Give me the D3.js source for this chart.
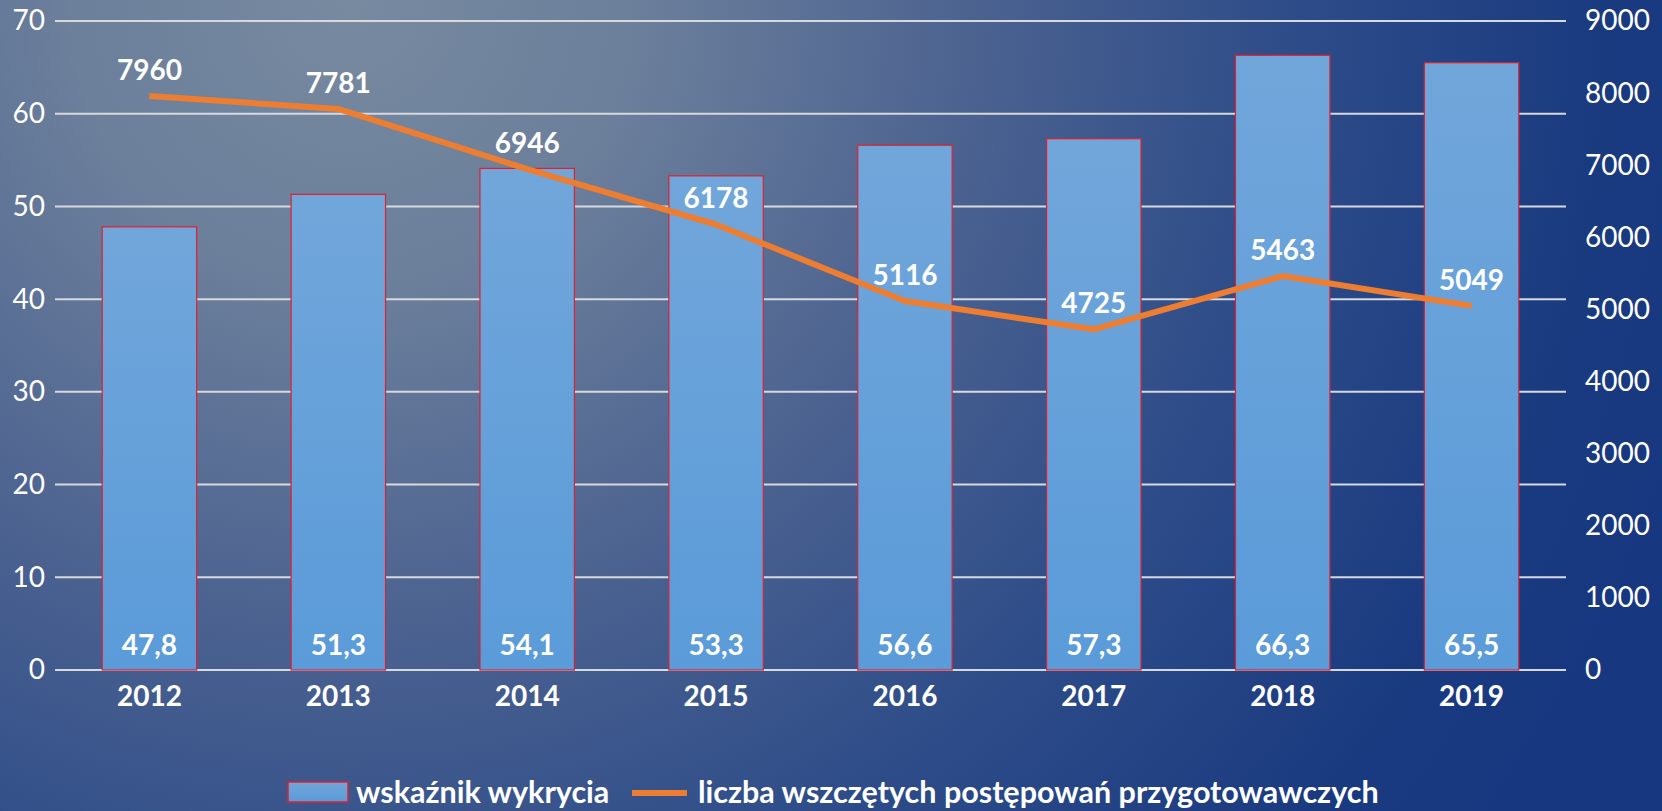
<!DOCTYPE html>
<html>
<head>
<meta charset="utf-8">
<script src="https://cdn.jsdelivr.net/npm/d3@7"></script>
<style>
  html, body { margin: 0; padding: 0; overflow: hidden; }
  svg text { font-family: Lato, "Noto Sans", sans-serif; fill: #fff; }
</style>
</head>
<body>
<div id="chart"></div>
<script>
var years = ['2012', '2013', '2014', '2015', '2016', '2017', '2018', '2019'];
var wskaznik = [47.8, 51.3, 54.1, 53.3, 56.6, 57.3, 66.3, 65.5];
var liczba = [7960, 7781, 6946, 6178, 5116, 4725, 5463, 5049];
var leftTicks = [0, 10, 20, 30, 40, 50, 60, 70];
var rightTicks = [0, 1000, 2000, 3000, 4000, 5000, 6000, 7000, 8000, 9000];
var legendLabels = ['wskaźnik wykrycia', 'liczba wszczętych postępowań przygotowawczych'];

var width = 1662, height = 811;
var margin = {top: 21, right: 96, bottom: 141, left: 55};
var innerW = width - margin.left - margin.right,
  innerH = height - margin.top - margin.bottom;

var pl = d3.formatLocale({decimal: ',', thousands: '', grouping: [3], currency: ['', '']});
var fmt1 = pl.format('.1f');

var svg = d3.select('#chart')
  .append('svg')
  .attr('width', width)
  .attr('height', height);

var defs = svg.append('defs');
var bg = defs.append('radialGradient')
  .attr('id', 'bg')
  .attr('gradientUnits', 'userSpaceOnUse')
  .attr('cx', 350).attr('cy', 0).attr('r', 1400);
[[0, '#778aa0'], [0.2, '#6c7f9b'], [0.45, '#4b6290'], [0.66, '#2f4d89'], [0.9, '#1a3a80'], [1, '#173780']]
  .forEach(function(s) {
    bg.append('stop').attr('offset', s[0]).attr('stop-color', s[1]);
  });
var barGrad = defs.append('linearGradient')
  .attr('id', 'barGrad')
  .attr('x1', 0).attr('y1', 0).attr('x2', 0).attr('y2', 1);
barGrad.append('stop').attr('offset', 0).attr('stop-color', '#71a6da');
barGrad.append('stop').attr('offset', 1).attr('stop-color', '#5a9bd9');

svg.append('rect')
  .attr('width', width)
  .attr('height', height)
  .attr('fill', 'url(#bg)');

var g = svg.append('g')
  .attr('transform', 'translate(' + margin.left + ',' + margin.top + ')');

var x = d3.scaleBand()
  .domain(years)
  .range([0, innerW])
  .paddingInner(0.5)
  .paddingOuter(0.25);
var yLeft = d3.scaleLinear().domain([0, 70]).range([innerH, 0]);
var yRight = d3.scaleLinear().domain([0, 9000]).range([innerH, 0]);

// gridlines
g.append('g')
  .selectAll('line')
  .data(leftTicks)
  .enter()
  .append('line')
  .attr('x1', 0)
  .attr('x2', innerW)
  .attr('y1', function(d) { return yLeft(d); })
  .attr('y2', function(d) { return yLeft(d); })
  .attr('stroke', '#d6d9de')
  .attr('stroke-width', 2);

// left axis
var leftAxis = g.append('g')
  .call(d3.axisLeft(yLeft).tickValues(leftTicks).tickSize(0).tickPadding(10));
leftAxis.select('.domain').remove();
leftAxis.selectAll('text')
  .attr('font-size', 28)
  .attr('fill', '#fff');

// right axis
var rightAxis = g.append('g')
  .attr('transform', 'translate(' + innerW + ',0)')
  .call(d3.axisRight(yRight).tickValues(rightTicks).tickSize(0).tickPadding(19).tickFormat(d3.format('d')));
rightAxis.select('.domain').remove();
rightAxis.selectAll('text')
  .attr('font-size', 28)
  .attr('fill', '#fff');

// bottom axis
var bottomAxis = g.append('g')
  .attr('transform', 'translate(0,' + innerH + ')')
  .call(d3.axisBottom(x).tickSize(0).tickPadding(16));
bottomAxis.select('.domain').remove();
bottomAxis.selectAll('text')
  .attr('font-size', 28)
  .attr('font-weight', 'bold')
  .attr('fill', '#fff');

// bars
g.selectAll('.bar')
  .data(years)
  .enter()
  .append('rect')
  .attr('class', 'bar')
  .attr('x', function(d) { return x(d); })
  .attr('y', function(d, i) { return yLeft(wskaznik[i]); })
  .attr('width', x.bandwidth())
  .attr('height', function(d, i) { return innerH - yLeft(wskaznik[i]); })
  .attr('fill', 'url(#barGrad)')
  .attr('stroke', '#e0202e')
  .attr('stroke-width', 1.2);

g.selectAll('.barLabel')
  .data(years)
  .enter()
  .append('text')
  .attr('class', 'barLabel')
  .attr('x', function(d) { return x(d) + x.bandwidth() / 2; })
  .attr('y', innerH - 15)
  .attr('text-anchor', 'middle')
  .attr('font-size', 28)
  .attr('font-weight', 'bold')
  .text(function(d, i) { return fmt1(wskaznik[i]); });

// line
var line = d3.line()
  .x(function(d, i) { return x(years[i]) + x.bandwidth() / 2; })
  .y(function(d) { return yRight(d); });

g.append('path')
  .datum(liczba)
  .attr('d', line)
  .attr('fill', 'none')
  .attr('stroke', '#ed7d31')
  .attr('stroke-width', 6)
  .attr('stroke-linejoin', 'round');

g.selectAll('.lineLabel')
  .data(liczba)
  .enter()
  .append('text')
  .attr('class', 'lineLabel')
  .attr('x', function(d, i) { return x(years[i]) + x.bandwidth() / 2; })
  .attr('y', function(d) { return yRight(d) - 16; })
  .attr('text-anchor', 'middle')
  .attr('font-size', 28)
  .attr('font-weight', 'bold')
  .text(function(d) { return d; });

// legend
var legend = svg.append('g');
legend.append('rect')
  .attr('x', 288).attr('y', 782)
  .attr('width', 60).attr('height', 20)
  .attr('fill', 'url(#barGrad)')
  .attr('stroke', '#e0202e')
  .attr('stroke-width', 1.5);
legend.append('text')
  .attr('x', 356).attr('y', 803)
  .attr('font-size', 30.5)
  .attr('font-weight', 'bold')
  .text(legendLabels[0]);
legend.append('line')
  .attr('x1', 632).attr('x2', 687)
  .attr('y1', 793).attr('y2', 793)
  .attr('stroke', '#ed7d31')
  .attr('stroke-width', 6);
legend.append('text')
  .attr('x', 698).attr('y', 803)
  .attr('font-size', 30.5)
  .attr('font-weight', 'bold')
  .text(legendLabels[1]);
</script>
</body>
</html>
